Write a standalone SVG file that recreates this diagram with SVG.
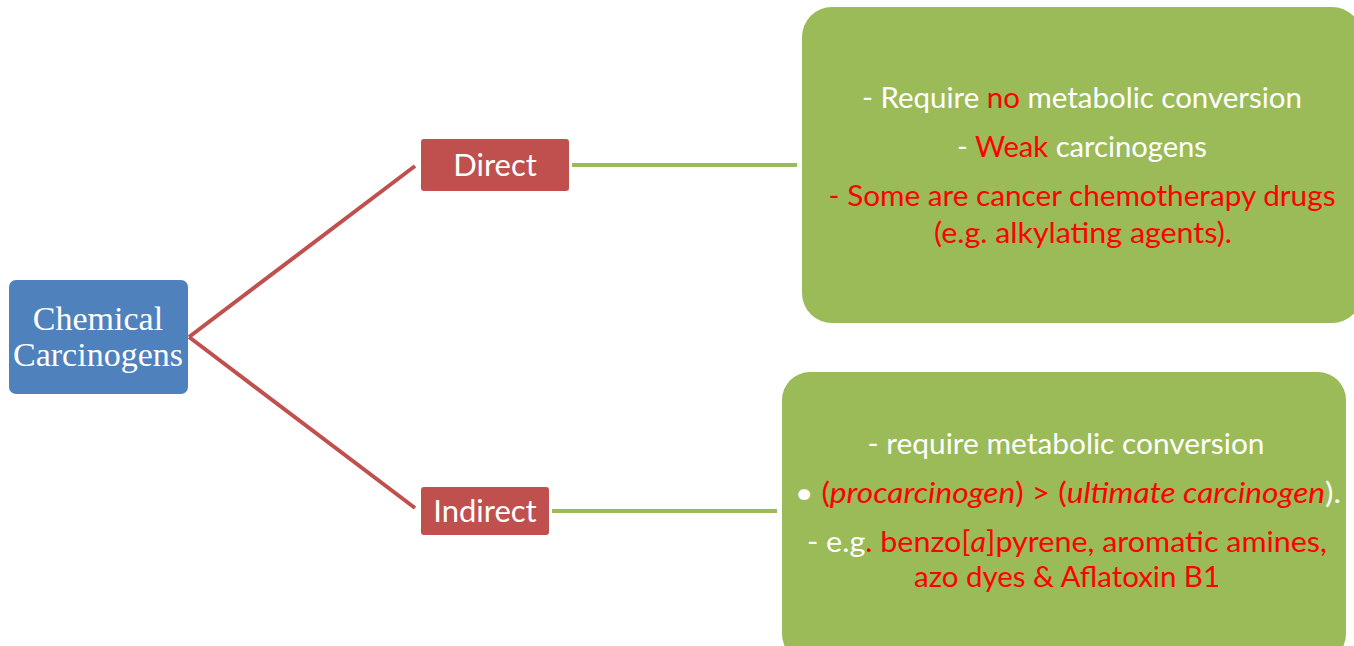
<svg xmlns="http://www.w3.org/2000/svg" width="1354" height="646" viewBox="0 0 1354 646">
<style>
.w{fill:#ffffff}
.r{fill:#ff0000}
.t{font-family:Lato,"Open Sans","Liberation Sans",sans-serif;font-size:29px;text-anchor:middle}
.lbl{font-family:Lato,"Open Sans","Liberation Sans",sans-serif;font-size:31px;fill:#ffffff;text-anchor:middle}
.red-box{fill:#C0504D}
.grn-box{fill:#9BBB59}
</style>
<rect width="1354" height="646" fill="#ffffff"/>
<g id="connectors" fill="none" stroke-width="4">
<line x1="189" y1="337" x2="415" y2="166" stroke="#C0504D"/>
<line x1="189" y1="337" x2="415" y2="508" stroke="#C0504D"/>
<line x1="572" y1="165" x2="797" y2="165" stroke="#9BBB59"/>
<line x1="552" y1="511" x2="777" y2="511" stroke="#9BBB59"/>
</g>
<g id="root">
<rect x="9" y="280" width="179" height="114" rx="7" fill="#4F81BD"/>
<text x="98" y="330" font-family="Liberation Serif,serif" font-size="34" fill="#ffffff" text-anchor="middle">Chemical</text>
<text x="98" y="366" font-family="Liberation Serif,serif" font-size="34" fill="#ffffff" text-anchor="middle">Carcinogens</text>
</g>
<g id="direct">
<rect class="red-box" x="421" y="139" width="148" height="52" rx="3"/>
<text class="lbl" x="495" y="176">Direct</text>
</g>
<g id="indirect">
<rect class="red-box" x="421" y="487" width="128" height="48" rx="3"/>
<text class="lbl" x="485" y="522">Indirect</text>
</g>
<g id="direct-info">
<rect class="grn-box" x="802" y="7" width="560" height="316" rx="30"/>
<text class="t" x="1082" y="108" textLength="440" lengthAdjust="spacingAndGlyphs"><tspan class="w">- Require </tspan><tspan class="r">no</tspan><tspan class="w"> metabolic conversion</tspan></text>
<text class="t" x="1082" y="157" textLength="250" lengthAdjust="spacingAndGlyphs"><tspan class="w">- </tspan><tspan class="r">Weak</tspan><tspan class="w"> carcinogens</tspan></text>
<text class="t r" x="1082" y="206" textLength="507" lengthAdjust="spacingAndGlyphs">- Some are cancer chemotherapy drugs</text>
<text class="t r" x="1083" y="243" textLength="298" lengthAdjust="spacingAndGlyphs">(e.g. alkylating agents).</text>
</g>
<g id="indirect-info">
<rect class="grn-box" x="782" y="372" width="564" height="290" rx="28"/>
<text class="t w" x="1066" y="454" textLength="397" lengthAdjust="spacingAndGlyphs">- require metabolic conversion</text>
<text class="t" x="1068" y="503" textLength="546" lengthAdjust="spacingAndGlyphs"><tspan class="w">• </tspan><tspan class="r">(<tspan font-style="italic">procarcinogen</tspan>) &gt; (<tspan font-style="italic">ultimate carcinogen</tspan></tspan><tspan class="w">).</tspan></text>
<text class="t" x="1067" y="552" textLength="520" lengthAdjust="spacingAndGlyphs"><tspan class="w">- e.g</tspan><tspan class="r">. benzo[<tspan font-style="italic">a</tspan>]pyrene, aromatic amines,</tspan></text>
<text class="t r" x="1067" y="587" textLength="306" lengthAdjust="spacingAndGlyphs">azo dyes &amp; Aflatoxin B1</text>
</g>
</svg>
